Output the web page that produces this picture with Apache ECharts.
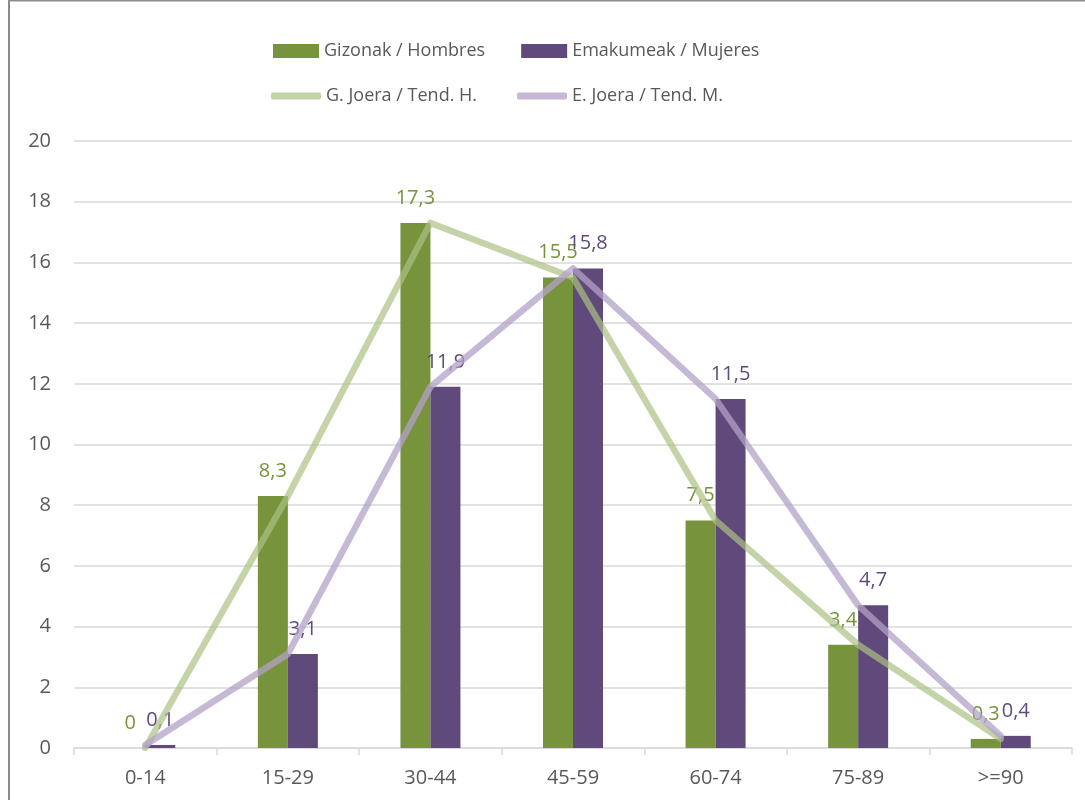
<!DOCTYPE html>
<html><head><meta charset="utf-8">
<script src="https://cdn.jsdelivr.net/npm/echarts@6/dist/echarts.min.js"></script>
<style>html,body{margin:0;padding:0;background:#fff}#c{width:1085px;height:800px}</style>
</head><body><div id="c"></div>
<script>
const categories = ['0-14','15-29','30-44','45-59','60-74','75-89','>=90'];
const hombres = [0, 8.3, 17.3, 15.5, 7.5, 3.4, 0.3];
const mujeres = [0.1, 3.1, 11.9, 15.8, 11.5, 4.7, 0.4];
const tendH = [0, 8.3, 17.3, 15.5, 7.5, 3.4, 0.3];
const tendM = [0.1, 3.1, 11.9, 15.8, 11.5, 4.7, 0.4];
const names = ['Gizonak / Hombres','Emakumeak / Mujeres','G. Joera / Tend. H.','E. Joera / Tend. M.'];

const font = 'Open Sans, Liberation Sans, sans-serif';
const fmt = p => String(p.value).replace('.', ',');
const chart = echarts.init(document.getElementById('c'));
chart.setOption({
  animation: false,
  textStyle: {fontFamily: font},
  graphic: [{type:'rect', shape:{x:9, y:0.5, width:1080, height:804}, style:{fill:'none', stroke:'#8c8c8c', lineWidth:2}, silent:true}],
  legend: [
    {data:[names[0], names[1]], left:268, top:37, itemWidth:46, itemHeight:14, itemGap:36,
     icon:'rect', textStyle:{fontSize:18, color:'#595959', fontFamily:font}},
    {data:[names[2], names[3]], left:266, top:82, itemWidth:50, itemHeight:7, itemGap:40,
     icon:'roundRect', textStyle:{fontSize:18, color:'#595959', fontFamily:font}}
  ],
  grid: {left:74, right:13, top:141, bottom:52},
  xAxis: {type:'category', data:categories,
    axisLine:{lineStyle:{color:'#D9D9D9', width:1.5}},
    axisTick:{show:true, length:7, lineStyle:{color:'#D9D9D9', width:1.5}},
    axisLabel:{fontSize:20, color:'#595959', margin:20, fontFamily:font}},
  yAxis: {type:'value', min:0, max:20, interval:2,
    axisLine:{show:false}, axisTick:{show:false},
    splitLine:{lineStyle:{color:'#D9D9D9', width:1.5}},
    axisLabel:{fontSize:20, color:'#595959', margin:23, fontFamily:font}},
  series: [
    {name:names[0], type:'bar', data:hombres, barWidth:30, barGap:'0%',
     itemStyle:{color:'#77933C'},
     label:{show:true, position:'top', distance:15, formatter:fmt, fontSize:20, color:'#77933C', fontFamily:font}},
    {name:names[1], type:'bar', data:mujeres, barWidth:30, barGap:'0%',
     itemStyle:{color:'#604A7B'},
     label:{show:true, position:'top', distance:15, formatter:fmt, fontSize:20, color:'#604A7B', fontFamily:font}},
    {name:names[2], type:'line', data:tendH, symbol:'none', z:5,
     lineStyle:{color:'rgba(171,192,131,0.7)', width:6.5, cap:'round', join:'round'},
     itemStyle:{color:'#C3D3A6'}},
    {name:names[3], type:'line', data:tendM, symbol:'none', z:5,
     lineStyle:{color:'rgba(179,162,199,0.75)', width:6.5, cap:'round', join:'round'},
     itemStyle:{color:'#C6B9D5'}}
  ]
});
</script></body></html>
